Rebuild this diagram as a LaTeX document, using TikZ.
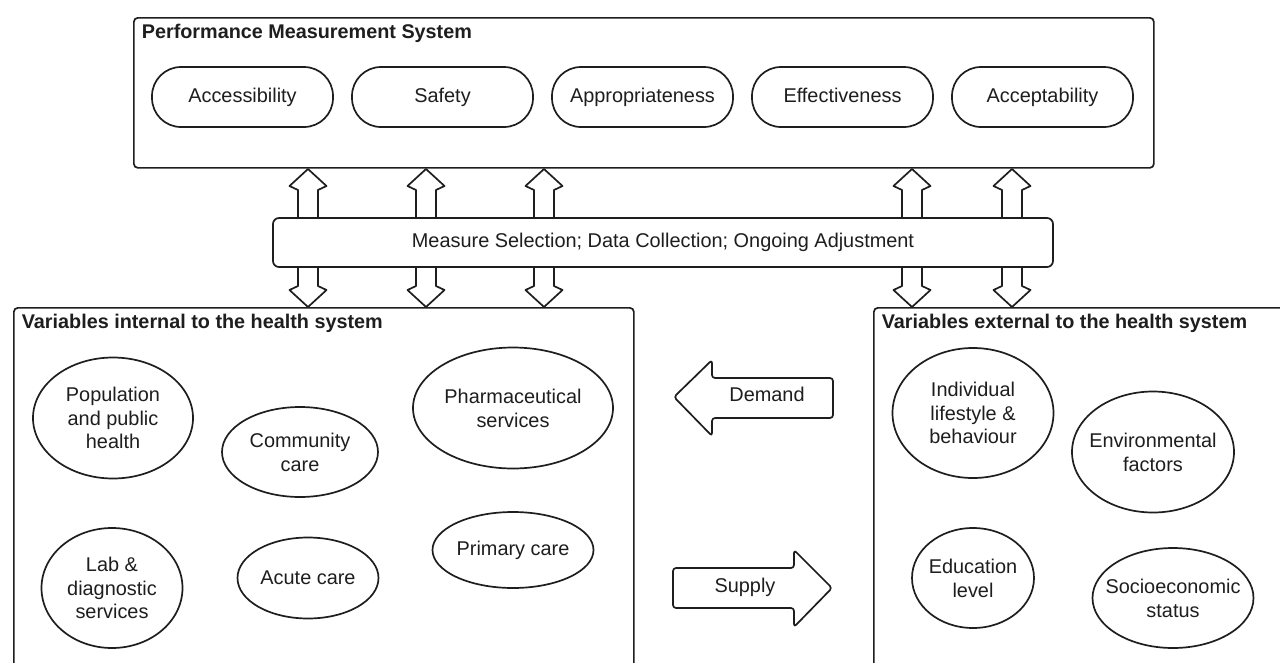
\documentclass[tikz,border=0pt]{standalone}
\usepackage{fontspec}
\setmainfont{Liberation Sans}
\usetikzlibrary{shapes.geometric}
\definecolor{ink}{HTML}{1E1E1E}
\begin{document}
\begin{tikzpicture}[x=1pt,y=-1pt,
  line width=1.7pt, line join=round,
  every node/.style={text=ink, font=\fontsize{19.9}{23.8}\selectfont},
  frame/.style={draw=ink, rounded corners=4pt, fill=white, inner sep=0pt},
  pill/.style={draw=ink, rounded corners=29pt, minimum width=181pt, minimum height=60pt, inner sep=0pt,
    text height=14.5pt, text depth=4.5pt},
  oval/.style={draw=ink, ellipse, inner sep=0pt},
  ovaltext/.style={align=center, inner sep=0pt},
  title/.style={anchor=base west, inner sep=0pt, font=\bfseries\fontsize{19.8}{23.8}\selectfont},
  blockarrow/.style={draw=ink, fill=white},
  arrowtext/.style={text height=14.5pt, text depth=4.5pt, inner sep=0pt},
]
\useasboundingbox (0,0) rectangle (1280,662);
\clip (0,0) rectangle (1280,662);

% top frame
\node[frame, anchor=north west, minimum width=1020pt, minimum height=150pt] (pms) at (133,17) {};
\node[title] (pmst) at (141,38) {Performance Measurement System};
\node[pill] (acc) at (242.5,97) {Accessibility};
\node[pill] (saf) at (442.5,97) {Safety};
\node[pill] (app) at (642.5,97) {Appropriateness};
\node[pill] (eff) at (842.5,97) {Effectiveness};
\node[pill] (acp) at (1042.5,97) {Acceptability};

% double arrows
\foreach \cx in {308,426,544,912,1012} {
  \draw[blockarrow] (\cx,169) -- (\cx+18.5,186) -- (\cx+10,190) -- (\cx+10,286)
    -- (\cx+18.5,290) -- (\cx,307) -- (\cx-18.5,290) -- (\cx-10,286)
    -- (\cx-10,190) -- (\cx-18.5,186) -- cycle;
}

% band
\node[frame, rounded corners=6pt, minimum width=780pt, minimum height=49pt,
  text height=14.5pt, text depth=4.5pt] (band) at (663,242.5)
  {Measure Selection; Data Collection; Ongoing Adjustment};

% lower boxes
\node[frame, anchor=north west, minimum width=620pt, minimum height=380pt] (internal) at (13,307) {};
\node[title] (intt) at (21,328) {Variables internal to the health system};
\node[frame, anchor=north west, minimum width=420pt, minimum height=380pt] (external) at (873,307) {};
\node[title] (extt) at (881,328) {Variables external to the health system};

% internal ovals
\node[oval, minimum width=160pt, minimum height=121pt] (pop) at (113,418) {};
\node[ovaltext] (popt) at (pop) {Population\\and public\\health};
\node[oval, minimum width=156pt, minimum height=90pt] (com) at (300,452) {};
\node[ovaltext] (comt) at (com) {Community\\care};
\node[oval, minimum width=200pt, minimum height=121pt] (pha) at (513,408) {};
\node[ovaltext] (phat) at (pha) {Pharmaceutical\\services};
\node[oval, minimum width=141pt, minimum height=120pt] (lab) at (112,588) {};
\node[ovaltext] (labt) at (lab) {Lab \&\\diagnostic\\services};
\node[oval, minimum width=141pt, minimum height=81pt] (acu) at (308,578) {};
\node[ovaltext] (acut) at (acu) {Acute care};
\node[oval, minimum width=161pt, minimum height=76pt] (pri) at (513,550) {};
\node[ovaltext] (prit) at (pri) {Primary care};

% external ovals
\node[oval, minimum width=161pt, minimum height=130pt] (ind) at (973,413) {};
\node[ovaltext] (indt) at (ind) {Individual\\lifestyle \&\\behaviour};
\node[oval, minimum width=162pt, minimum height=121pt] (env) at (1153,452) {};
\node[ovaltext] (envt) at (env) {Environmental\\factors};
\node[oval, minimum width=122pt, minimum height=100pt] (edu) at (973,578) {};
\node[ovaltext] (edut) at (edu) {Education\\level};
\node[oval, minimum width=161pt, minimum height=100pt] (soc) at (1173,598) {};
\node[ovaltext] (soct) at (soc) {Socioeconomic\\status};

% demand / supply
\draw[blockarrow, rounded corners=3pt] (674,397) -- (712,360) -- (712,378) -- (833,378)
  -- (833,418) -- (712,418) -- (712,436) -- cycle;
\node[arrowtext] (dem) at (767,396) {Demand};
\draw[blockarrow, rounded corners=3pt] (673,568) -- (794,568) -- (794,550) -- (832,588)
  -- (794,627) -- (794,608) -- (673,608) -- cycle;
\node[arrowtext] (sup) at (745,587) {Supply};
\end{tikzpicture}
\end{document}
